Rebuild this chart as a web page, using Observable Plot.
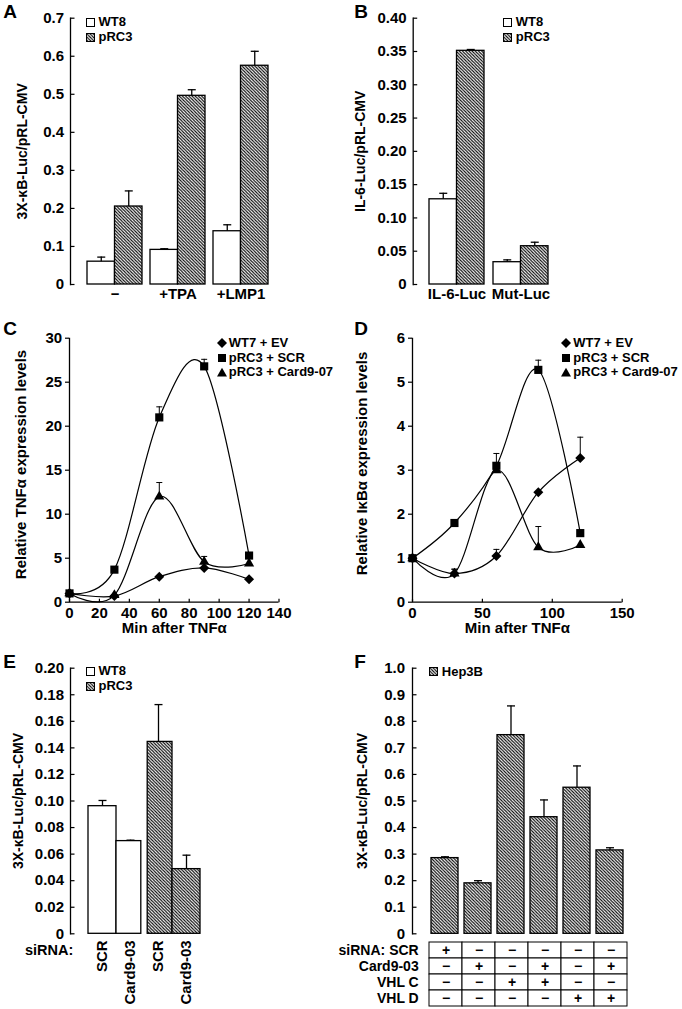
<!DOCTYPE html>
<html><head><meta charset="utf-8">
<script src="https://cdn.jsdelivr.net/npm/d3@7"></script>
<script src="https://cdn.jsdelivr.net/npm/@observablehq/plot@0.6"></script>
<style>
body{margin:0;background:#fff;}
#fig{position:relative;width:682px;height:1009px;overflow:hidden;background:#fff;font-family:"Liberation Sans",Arial,Helvetica,sans-serif;font-weight:bold;color:#000;}
.t{position:absolute;white-space:nowrap;line-height:1;}
.letter{font-size:19px;}
.row{position:absolute;display:flex;align-items:center;height:14px;font-size:13px;line-height:14px;white-space:nowrap;}
.row svg{display:block;flex:none;}
</style></head><body>
<svg width="0" height="0" style="position:absolute"><defs>
<pattern id="hatch" patternUnits="userSpaceOnUse" width="3.2" height="3.2">
<rect width="3.2" height="3.2" fill="white"/>
<path d="M-0.8,-0.8L4,4M-0.8,2.4L0.8,4M2.4,-0.8L4,0.8" stroke="black" stroke-width="1.1"/>
</pattern></defs></svg>
<div id="fig"></div>
<script>
// ---------- DATA ----------
// Panel A
const groupsA = ["−", "+TPA", "+LMP1"];
const wt8A = [0.060, 0.091, 0.140];
const wt8AErr = [0.012, 0.003, 0.017];
const prc3A = [0.205, 0.496, 0.575];
const prc3AErr = [0.041, 0.016, 0.038];
const ticksA = [0, 0.1, 0.2, 0.3, 0.4, 0.5, 0.6, 0.7];
// Panel B
const groupsB = ["IL-6-Luc", "Mut-Luc"];
const wt8B = [0.128, 0.0335];
const wt8BErr = [0.009, 0.0035];
const prc3B = [0.351, 0.0575];
const prc3BErr = [0.002, 0.006];
const ticksB = [0, 0.05, 0.10, 0.15, 0.20, 0.25, 0.30, 0.35, 0.40];
// Panels C, D
const minutes = [0, 30, 60, 90, 120];
const seriesNames = ["WT7 + EV", "pRC3 + SCR", "pRC3 + Card9-07"];
const tnfWT7 = [1.0, 0.7, 2.9, 3.9, 2.6];
const tnfSCR = [1.0, 3.7, 21.0, 26.8, 5.3];
const tnfCard = [1.0, 0.8, 12.0, 4.6, 4.4];
const tnfWT7Err = [0, 0, 0, 0, 0];
const tnfSCRErr = [0, 0, 1.2, 0.8, 0];
const tnfCardErr = [0, 0, 1.6, 0.6, 0];
const ticksCx = [0, 20, 40, 60, 80, 100, 120, 140];
const ticksCy = [0, 5, 10, 15, 20, 25, 30];
const ikbWT7 = [1.0, 0.65, 1.05, 2.5, 3.28];
const ikbSCR = [1.0, 1.8, 3.1, 5.28, 1.57];
const ikbCard = [1.0, 0.65, 3.0, 1.25, 1.3];
const ikbWT7Err = [0, 0.1, 0.15, 0, 0.47];
const ikbSCRErr = [0, 0, 0.28, 0.22, 0];
const ikbCardErr = [0, 0.1, 0, 0.47, 0];
const ticksDx = [0, 50, 100, 150];
const ticksDy = [0, 1, 2, 3, 4, 5, 6];
// Panel E
const cellsE = ["WT8", "WT8", "pRC3", "pRC3"];
const sirnaE = ["SCR", "Card9-03", "SCR", "Card9-03"];
const valuesE = [0.0961, 0.0698, 0.1445, 0.0487];
const errE = [0.0043, 0.0007, 0.0281, 0.0105];
const ticksE = [0, 0.02, 0.04, 0.06, 0.08, 0.10, 0.12, 0.14, 0.16, 0.18, 0.20];
// Panel F
const conditionsF = ["1", "2", "3", "4", "5", "6"];
const hep3b = [0.285, 0.19, 0.748, 0.439, 0.55, 0.314];
const hep3bErr = [0.005, 0.01, 0.11, 0.065, 0.082, 0.01];
const ticksF = [0, 0.1, 0.2, 0.3, 0.4, 0.5, 0.6, 0.7, 0.8, 0.9, 1.0];
const tableRows = ["siRNA: SCR", "Card9-03", "VHL C", "VHL D"];
const rowSCR = ["+", "−", "−", "−", "−", "−"];
const rowCard = ["−", "+", "−", "+", "−", "+"];
const rowVHLC = ["−", "−", "+", "+", "−", "−"];
const rowVHLD = ["−", "−", "−", "−", "+", "+"];

// ---------- HELPERS ----------
const FONT = '"Liberation Sans", Arial, Helvetica, sans-serif';
const fig = document.getElementById("fig");
const styleAt = (left, top) => ({position: "absolute", left: left + "px", top: top + "px", fontFamily: FONT, fontSize: "15px", fontWeight: "bold", color: "black", background: "none", overflow: "visible", maxWidth: "none"});
const cap = w => ({draw(ctx) { ctx.moveTo(-w / 2, 0); ctx.lineTo(w / 2, 0); }});
const tickRight = {draw(ctx) { ctx.moveTo(0, 0); ctx.lineTo(4, 0); }};
const tickUp = {draw(ctx) { ctx.moveTo(0, 0); ctx.lineTo(0, -3.5); }};
const fmt = n => d => d === 0 ? "0" : d.toFixed(n);
const plain = d => String(d);

function groupedBars(o) {
  const rows = o.groups.map((g, i) => ({g, wt: o.wt[i], wte: o.wtErr[i], pr: o.pr[i], pre: o.prErr[i]}));
  const half = o.bw / 2, q = o.bw / 4;
  return Plot.plot({
    width: o.w, height: o.h, marginLeft: o.mL, marginRight: o.mR, marginTop: o.mT, marginBottom: o.mB,
    style: styleAt(o.left, o.top),
    x: {domain: o.groups, paddingInner: o.pi, paddingOuter: o.po},
    y: {domain: [0, o.yMax]},
    marks: [
      Plot.barY(rows, {x: "g", y: "wt", fill: "white", stroke: "black", strokeWidth: 1.3, insetRight: half}),
      Plot.barY(rows, {x: "g", y: "pr", fill: "url(#hatch)", stroke: "black", strokeWidth: 1.3, insetLeft: half}),
      Plot.ruleX(rows, {x: "g", y1: "wt", y2: d => d.wt + d.wte, dx: -q, strokeWidth: 1.3}),
      Plot.dot(rows, {x: "g", y: d => d.wt + d.wte, dx: -q, symbol: cap(8), stroke: "black", fill: "none", strokeWidth: 1.3}),
      Plot.ruleX(rows, {x: "g", y1: "pr", y2: d => d.pr + d.pre, dx: q, strokeWidth: 1.3}),
      Plot.dot(rows, {x: "g", y: d => d.pr + d.pre, dx: q, symbol: cap(8), stroke: "black", fill: "none", strokeWidth: 1.3}),
      Plot.frame({anchor: "left", strokeWidth: 1.3}),
      Plot.dot(o.yTicks, {y: d => d, frameAnchor: "left", symbol: tickRight, stroke: "black", fill: "none", strokeWidth: 1.2}),
      Plot.axisY({ticks: o.yTicks, tickSize: 0, tickPadding: 6.5, tickFormat: o.fmt, label: null}),
      Plot.axisX({tickSize: 0, tickPadding: 3.6, label: null}),
      Plot.text([o.yLabel], {text: d => d, frameAnchor: "left", textAnchor: "middle", rotate: -90, dx: o.ldx, fontSize: 14})
    ]
  });
}

function linePanel(o) {
  const rows = [];
  o.series.forEach((s, k) => o.t.forEach((t, i) => rows.push({s, t, v: o.vals[k][i], e: o.errs[k][i]})));
  const errRows = rows.filter(d => d.e > 0);
  const bySeries = s => rows.filter(d => d.s === s);
  return Plot.plot({
    width: o.w, height: o.h, marginLeft: o.mL, marginRight: o.mR, marginTop: o.mT, marginBottom: o.mB,
    style: styleAt(o.left, o.top),
    x: {domain: o.xDomain}, y: {domain: o.yDomain},
    marks: [
      Plot.ruleX([0], {strokeWidth: 1.3}),
      Plot.ruleY([0], {strokeWidth: 1.3}),
      Plot.line(rows, {x: "t", y: "v", z: "s", curve: "cardinal", stroke: "black", strokeWidth: 1.2}),
      Plot.ruleX(errRows, {x: "t", y1: "v", y2: d => d.v + d.e, strokeWidth: 1}),
      Plot.dot(errRows, {x: "t", y: d => d.v + d.e, symbol: cap(6), stroke: "black", fill: "none", strokeWidth: 1}),
      Plot.dot(bySeries(o.series[0]), {x: "t", y: "v", symbol: "diamond2", r: 4.5, fill: "black", stroke: "none"}),
      Plot.dot(bySeries(o.series[2]), {x: "t", y: "v", symbol: "triangle", r: 3.8, fill: "black", stroke: "none"}),
      Plot.dot(bySeries(o.series[1]), {x: "t", y: "v", symbol: "square", r: 4.6, fill: "black", stroke: "none"}),
      Plot.dot(o.xTicks, {x: d => d, frameAnchor: "bottom", symbol: tickUp, stroke: "black", fill: "none", strokeWidth: 1.2}),
      Plot.axisX({ticks: o.xTicks, tickSize: 0, tickPadding: 5, tickFormat: plain, label: null}),
      Plot.axisY({ticks: o.yTicks, tickSize: 4, tickPadding: 3.3, tickFormat: plain, label: null, strokeWidth: 1.2}),
      Plot.text([o.yLabel], {text: d => d, frameAnchor: "left", textAnchor: "middle", rotate: -90, dx: o.ldx, dy: o.ldy, fontSize: 15}),
      Plot.text([o.xLabel], {text: d => d, frameAnchor: "bottom", textAnchor: "middle", dy: 31, fontSize: 15})
    ]
  });
}

// ---------- PANELS ----------
fig.append(groupedBars({groups: groupsA, wt: wt8A, wtErr: wt8AErr, pr: prc3A, prErr: prc3AErr, bw: 55,
  left: 0, top: 0, w: 341, h: 310, mL: 70, mR: 57, mT: 17.7, mB: 26, pi: 0.134, po: 0.252,
  yMax: 0.7, yTicks: ticksA, fmt: fmt(1), yLabel: "3X-κB-Luc/pRL-CMV", ldx: -48.3}));

fig.append(groupedBars({groups: groupsB, wt: wt8B, wtErr: wt8BErr, pr: prc3B, prErr: prc3BErr, bw: 55,
  left: 341, top: 0, w: 341, h: 310, mL: 71.7, mR: 117.6, mT: 17.7, mB: 26, pi: 0.14, po: 0.255,
  yMax: 0.4, yTicks: ticksB, fmt: fmt(2), yLabel: "IL-6-Luc/pRL-CMV", ldx: -52.4}));

fig.append(linePanel({t: minutes, series: seriesNames, vals: [tnfWT7, tnfSCR, tnfCard], errs: [tnfWT7Err, tnfSCRErr, tnfCardErr],
  left: 0, top: 300, w: 341, h: 345, mL: 69, mR: 62.5, mT: 37.7, mB: 43.3,
  xDomain: [0, 140], yDomain: [0, 30], xTicks: ticksCx, yTicks: ticksCy,
  yLabel: "Relative TNFα expression levels", xLabel: "Min after TNFα", ldx: -48, ldy: -5.7}));

fig.append(linePanel({t: minutes, series: seriesNames, vals: [ikbWT7, ikbSCR, ikbCard], errs: [ikbWT7Err, ikbSCRErr, ikbCardErr],
  left: 341, top: 300, w: 341, h: 345, mL: 71, mR: 60.3, mT: 37.7, mB: 43.3,
  xDomain: [0, 150], yDomain: [0, 6], xTicks: ticksDx, yTicks: ticksDy,
  yLabel: "Relative IκBα expression levels", xLabel: "Min after TNFα", ldx: -50, ldy: -6.7}));

// Panel E
{
  const keysE = cellsE.map((c, i) => c + " " + sirnaE[i]);
  const rowsE = keysE.map((k, i) => ({k, cell: cellsE[i], sirna: sirnaE[i], v: valuesE[i], e: errE[i]}));
  const gap = 3.2;
  fig.append(Plot.plot({
    width: 341, height: 369, marginLeft: 70, marginRight: 123.3, marginTop: 27.7, marginBottom: 75.7,
    style: styleAt(0, 640),
    x: {domain: keysE, paddingInner: 0, paddingOuter: 0.553},
    y: {domain: [0, 0.2]},
    marks: [
      ...rowsE.map((r, i) => Plot.barY([r], {x: "k", y: "v", fill: r.cell === "WT8" ? "white" : "url(#hatch)", stroke: "black", strokeWidth: 1.3,
        insetRight: i === 1 ? gap : 0, insetLeft: i === 2 ? gap : 0})),
      Plot.ruleX(rowsE, {x: "k", y1: "v", y2: d => d.v + d.e, strokeWidth: 1.3}),
      Plot.dot(rowsE, {x: "k", y: d => d.v + d.e, symbol: cap(8), stroke: "black", fill: "none", strokeWidth: 1.3}),
      Plot.frame({anchor: "left", strokeWidth: 1.3}),
      Plot.dot(ticksE, {y: d => d, frameAnchor: "left", symbol: tickRight, stroke: "black", fill: "none", strokeWidth: 1.2}),
      Plot.axisY({ticks: ticksE, tickSize: 0, tickPadding: 6.5, tickFormat: fmt(2), label: null}),
      Plot.axisX({tickSize: 0, tickPadding: 6.5, tickRotate: -90, tickFormat: k => k.split(" ")[1], label: null}),
      Plot.text(["3X-κB-Luc/pRL-CMV"], {text: d => d, frameAnchor: "left", textAnchor: "middle", rotate: -90, dx: -51.7, fontSize: 14})
    ]
  }));
}

// Panel F
{
  const rowsF = conditionsF.map((c, i) => ({c, v: hep3b[i], e: hep3bErr[i]}));
  fig.append(Plot.plot({
    width: 341, height: 305, marginLeft: 71, marginRight: 39.4, marginTop: 27.7, marginBottom: 11.7,
    style: styleAt(341, 640),
    x: {domain: conditionsF, paddingInner: 0.18, paddingOuter: 0.514, axis: null},
    y: {domain: [0, 1]},
    marks: [
      Plot.barY(rowsF, {x: "c", y: "v", fill: "url(#hatch)", stroke: "black", strokeWidth: 1.3}),
      Plot.ruleX(rowsF, {x: "c", y1: "v", y2: d => d.v + d.e, strokeWidth: 1.3}),
      Plot.dot(rowsF, {x: "c", y: d => d.v + d.e, symbol: cap(8), stroke: "black", fill: "none", strokeWidth: 1.3}),
      Plot.frame({anchor: "left", strokeWidth: 1.3}),
      Plot.dot(ticksF, {y: d => d, frameAnchor: "left", symbol: tickRight, stroke: "black", fill: "none", strokeWidth: 1.2}),
      Plot.axisY({ticks: ticksF, tickSize: 0, tickPadding: 7.5, tickFormat: fmt(1), label: null}),
      Plot.text(["3X-κB-Luc/pRL-CMV"], {text: d => d, frameAnchor: "left", textAnchor: "middle", rotate: -90, dx: -50.2, fontSize: 14})
    ]
  }));
  const signs = [rowSCR, rowCard, rowVHLC, rowVHLD];
  const tableData = [];
  tableRows.forEach((r, j) => conditionsF.forEach((c, i) => tableData.push({r, c, s: signs[j][i]})));
  fig.append(Plot.plot({
    width: 341, height: 79, marginLeft: 85.7, marginRight: 53.7, marginTop: 11, marginBottom: 1.7,
    style: {...styleAt(341, 930), fontSize: "14px"},
    x: {domain: conditionsF, padding: 0, axis: null},
    y: {domain: tableRows, padding: 0},
    marks: [
      Plot.cell(tableData, {x: "c", y: "r", fill: "white", stroke: "black", strokeWidth: 1}),
      Plot.text(tableData, {x: "c", y: "r", text: "s", fontSize: 14, fontWeight: 900}),
      Plot.axisY({tickSize: 0, tickPadding: 8.5, label: null})
    ]
  }));
}

// ---------- LETTERS, LEGENDS, EXTRA TEXT ----------
function addText(txt, cls, left, top, extra) {
  const d = document.createElement("div");
  d.className = "t " + cls; d.textContent = txt;
  d.style.left = left + "px"; d.style.top = top + "px";
  if (extra) Object.assign(d.style, extra);
  fig.append(d);
}
[["A", 3.3, 2.2], ["B", 354.3, 2.2], ["C", 3.3, 318.8], ["D", 354.3, 318.8], ["E", 3.3, 652], ["F", 354.3, 652]]
  .forEach(([l, x, y]) => addText(l, "letter", x, y));

const boxWhite = '<svg width="9" height="9"><rect x="0.5" y="0.5" width="8" height="8" fill="white" stroke="black"/></svg>';
const boxHatch = '<svg width="9" height="9"><rect x="0.5" y="0.5" width="8" height="8" fill="url(#hatch)" stroke="black"/></svg>';
const symDiamond = '<svg width="10" height="10"><path d="M5,0L10,5L5,10L0,5Z" fill="black"/></svg>';
const symSquare = '<svg width="10" height="10"><rect x="1" y="1" width="8" height="8" fill="black"/></svg>';
const symTriangle = '<svg width="10" height="10"><path d="M5,0.8L10,9.4L0,9.4Z" fill="black"/></svg>';
function legendRow(left, cy, sw, label, gap) {
  const d = document.createElement("div");
  d.className = "row";
  d.style.left = left + "px"; d.style.top = (cy - 7) + "px"; d.style.gap = gap + "px";
  d.innerHTML = sw + "<span>" + label + "</span>";
  fig.append(d);
}
// A, B, E legends
[[86, 22], [503.3, 22], [86, 671]].forEach(([x, y]) => {
  legendRow(x, y, boxWhite, "WT8", 3.5);
  legendRow(x, y + 15, boxHatch, "pRC3", 3.5);
});
legendRow(429.3, 671.7, boxHatch, "Hep3B", 3.5);
// C, D legends
[[216.7, 342.7], [561.3, 342.7]].forEach(([x, y]) => {
  legendRow(x, y, symDiamond, seriesNames[0], 2);
  legendRow(x, y + 14.8, symSquare, seriesNames[1], 2);
  legendRow(x, y + 29.6, symTriangle, seriesNames[2], 2);
});
addText("siRNA:", "", 0, 942.5, {fontSize: "14.5px", right: "608.7px", left: "auto"});
</script>
</body></html>
